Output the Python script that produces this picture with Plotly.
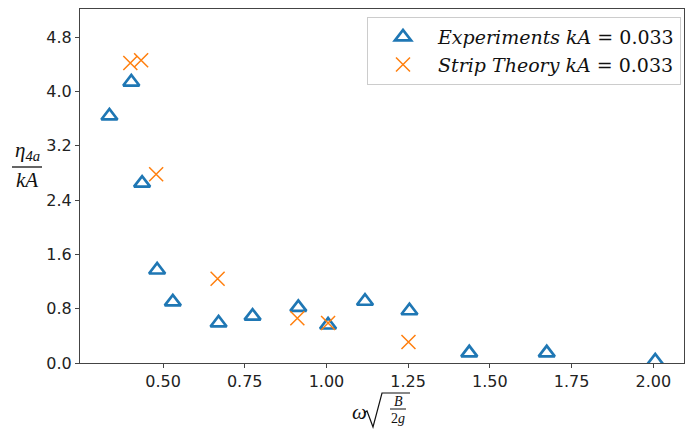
import plotly.graph_objects as go

# Data
exp_x = [0.336, 0.403, 0.436, 0.482, 0.530, 0.670, 0.774, 0.914, 1.005, 1.118, 1.254, 1.437, 1.674, 2.006]
exp_y = [3.64, 4.14, 2.65, 1.37, 0.90, 0.59, 0.69, 0.82, 0.56, 0.91, 0.77, 0.15, 0.15, 0.03]
th_x = [0.400, 0.433, 0.479, 0.667, 0.911, 1.005, 1.251]
th_y = [4.42, 4.46, 2.78, 1.24, 0.66, 0.59, 0.31]
x_ticks = [0.50, 0.75, 1.00, 1.25, 1.50, 1.75, 2.00]
y_ticks = [0.0, 0.8, 1.6, 2.4, 3.2, 4.0, 4.8]

W, H = 693, 429
L, R, T, B = 80, 684, 9, 363

def px(x):
    return (x - L) / (R - L)

def py(y):
    return (B - y) / (B - T)

fig = go.Figure()
fig.add_trace(go.Scatter(
    x=exp_x, y=exp_y, mode="markers",
    name="<i>Experiments kA</i> = 0.033",
    marker=dict(symbol="triangle-up-open", size=14, color="#1f77b4",
                line=dict(width=2.7, color="#1f77b4")),
))
fig.add_trace(go.Scatter(
    x=th_x, y=th_y, mode="markers",
    name="<i>Strip Theory kA</i> = 0.033",
    marker=dict(symbol="x-thin-open", size=14, color="#ff7f0e",
                line=dict(width=1.5, color="#ff7f0e")),
))

axis_common = dict(showline=True, linecolor="#444", linewidth=1, mirror=True,
                   ticks="outside", ticklen=4, tickcolor="#444", showgrid=False,
                   zeroline=False, tickfont=dict(family="DejaVu Sans", size=16, color="#222"))

fig.update_xaxes(range=[0.246, 2.094], tickvals=x_ticks, tickformat=".2f", **axis_common)
fig.update_yaxes(range=[0, 5.216], tickvals=y_ticks, tickformat=".1f", **axis_common)

serif = "Liberation Serif"
anns = [
    # y label fraction
    dict(x=px(27), y=py(151), text="<i>η</i><sub><i>4a</i></sub>", font=dict(family=serif, size=21, color="#111")),
    dict(x=px(27), y=py(180), text="<i>kA</i>", font=dict(family=serif, size=21, color="#111")),
    # x label
    dict(x=px(359), y=py(412), text="<i>ω</i>", font=dict(family=serif, size=21, color="#111")),
    dict(x=px(398), y=py(401), text="<i>B</i>", font=dict(family=serif, size=14, color="#111")),
    dict(x=px(398), y=py(418), text="2<i>g</i>", font=dict(family=serif, size=14, color="#111")),
]
for a in anns:
    a.update(xref="paper", yref="paper", showarrow=False, xanchor="center", yanchor="middle")
fig.update_layout(annotations=anns)

shapes = [
    dict(type="line", xref="paper", yref="paper", x0=px(12), x1=px(42), y0=py(167), y1=py(167),
         line=dict(color="#111", width=1.3)),
    dict(type="line", xref="paper", yref="paper", x0=px(390), x1=px(406), y0=py(409), y1=py(409),
         line=dict(color="#111", width=1)),
    dict(type="path", xref="paper", yref="paper",
         path=f"M{px(364)},{py(413)} L{px(367)},{py(411)} L{px(373)},{py(427)} L{px(382)},{py(393)} L{px(410)},{py(393)}",
         line=dict(color="#111", width=1.2)),
]
fig.update_layout(shapes=shapes)

fig.update_layout(
    width=W, height=H,
    margin=dict(l=L, r=W - R, t=T, b=H - B, autoexpand=False),
    paper_bgcolor="white", plot_bgcolor="white",
    showlegend=True,
    legend=dict(x=px(367), y=py(17), xanchor="left", yanchor="top",
                xref="paper", yref="paper",
                bgcolor="rgba(255,255,255,0.8)", bordercolor="#cccccc", borderwidth=1,
                font=dict(family="DejaVu Serif", size=19, color="#111"),
                itemwidth=60, tracegroupgap=0),
)

fig.write_html("out.html",
               config={"displayModeBar": False},
               post_script="document.body.style.margin='0';document.body.style.overflow='hidden';")
